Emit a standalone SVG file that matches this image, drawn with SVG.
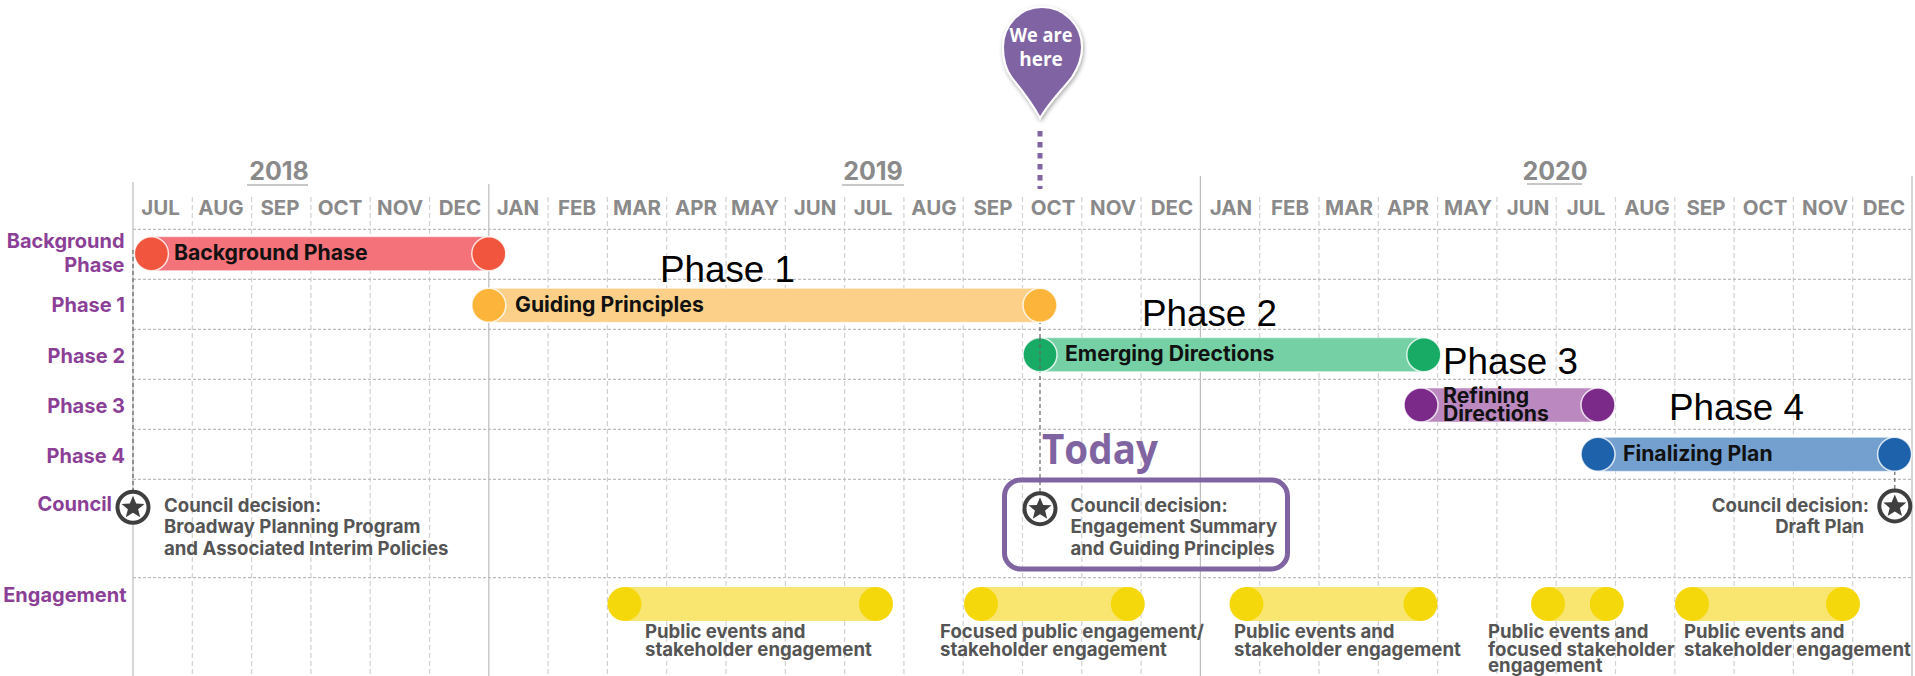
<svg xmlns="http://www.w3.org/2000/svg" width="1915" height="676" viewBox="0 0 1915 676">
<style>
text{font-family:"Inter","Liberation Sans",sans-serif;font-weight:700}
.yr{font-size:25px;fill:#8a8a8a;text-anchor:middle}
.mo{font-size:20.5px;fill:#8a8a8a;text-anchor:middle;font-weight:700}
.row{font-size:20px;fill:#8b3f97;text-anchor:end}
.bar{font-size:21.2px;fill:#111}
.note{font-size:18.6px;fill:#555;font-weight:700}
.ph{font-family:"Liberation Sans",Arial,sans-serif;font-size:36.8px;font-weight:400;fill:#000}
.gv{stroke:#d2d2d2;stroke-width:1.2;stroke-dasharray:5 3;fill:none}
.gh{stroke:#bdbdbd;stroke-width:1.2;stroke-dasharray:3 2;fill:none}
.ax{stroke:#bcbcbc;stroke-width:1.2;fill:none}
.dk{stroke:#666;stroke-width:1.2;stroke-dasharray:4 3;fill:none}
.cap{stroke:#fff;stroke-width:1.5;stroke-opacity:.8}
.pb{stroke:#fff;stroke-width:1;stroke-opacity:.5}
.ul{stroke:#b5b5b5;stroke-width:1.5}
.ring{fill:#fff;stroke:#3f3f3f;stroke-width:4}
.star{fill:#3f3f3f}
.pin{font-family:"Open Sans",sans-serif;font-size:19px;fill:#fff;text-anchor:middle}
</style>
<defs>
<filter id="sh" x="-20%" y="-20%" width="140%" height="140%"><feDropShadow dx="1" dy="2" stdDeviation="2" flood-color="#000" flood-opacity=".35"/></filter>
<g id="st"><circle class="ring" r="15.5"/><polygon class="star" points="0,-11.5 3.2,-3.8 11.5,-3.4 5.1,1.9 7.2,10 0,5.5 -7.2,10 -5.1,1.9 -11.5,-3.4 -3.2,-3.8"/></g>
</defs>
<g id="grid">
<path class="gv" d="M192.3 197V676M251.6 197V676M310.9 197V676M370.2 197V676M429.5 197V676M548.1 197V676M607.4 197V676M666.7 197V676M726 197V676M785.3 197V676M844.6 197V676M903.9 197V676M963.2 197V676M1022.5 197V676M1081.8 197V676M1141.1 197V676M1259.7 197V676M1319 197V676M1378.3 197V676M1437.6 197V676M1496.9 197V676M1556.2 197V676M1615.5 197V676M1674.8 197V676M1734.1 197V676M1793.4 197V676M1852.7 197V676"/>
<path class="gh" d="M133 229.3H1912M133 279.3H1912M133 329.3H1912M133 379.3H1912M133 429.3H1912M133 479.3H1912M133 577.7H1912"/>
<path class="ax" d="M133 182V676M488.8 184V676M1200.4 176V676M1912 176V676"/>
</g>
<g id="connectors">
<path class="dk" d="M133 250V490"/>
<path class="dk" d="M1040 320V498"/>
<path class="dk" d="M1894.8 471V492"/>
<path d="M1040 131V189" fill="none" stroke="#8064a2" stroke-width="5" stroke-dasharray="5.5 5.5"/>
</g>
<g id="years">
<text class="yr" x="279" y="180">2018</text><path class="ul" d="M247 185H308"/>
<text class="yr" x="873" y="180">2019</text><path class="ul" d="M842 185H904"/>
<text class="yr" x="1555" y="180">2020</text><path class="ul" d="M1527 184H1582"/>
</g>
<g id="months">
<text class="mo" x="160.5" y="215">JUL</text><text class="mo" x="221" y="215">AUG</text><text class="mo" x="280" y="215">SEP</text><text class="mo" x="340" y="215">OCT</text><text class="mo" x="400" y="215">NOV</text><text class="mo" x="460" y="215">DEC</text><text class="mo" x="518" y="215">JAN</text><text class="mo" x="577" y="215">FEB</text><text class="mo" x="637" y="215">MAR</text><text class="mo" x="696" y="215">APR</text><text class="mo" x="755" y="215">MAY</text><text class="mo" x="815" y="215">JUN</text><text class="mo" x="873" y="215">JUL</text><text class="mo" x="934" y="215">AUG</text><text class="mo" x="993" y="215">SEP</text><text class="mo" x="1053" y="215">OCT</text><text class="mo" x="1113" y="215">NOV</text><text class="mo" x="1172" y="215">DEC</text><text class="mo" x="1231" y="215">JAN</text><text class="mo" x="1290" y="215">FEB</text><text class="mo" x="1349" y="215">MAR</text><text class="mo" x="1408" y="215">APR</text><text class="mo" x="1468" y="215">MAY</text><text class="mo" x="1528" y="215">JUN</text><text class="mo" x="1586" y="215">JUL</text><text class="mo" x="1647" y="215">AUG</text><text class="mo" x="1706" y="215">SEP</text><text class="mo" x="1765" y="215">OCT</text><text class="mo" x="1825" y="215">NOV</text><text class="mo" x="1884" y="215">DEC</text>
</g>
<g id="row-labels">
<text class="row" x="124.5" y="248">Background</text><text class="row" x="124.5" y="272">Phase</text>
<text class="row" x="125" y="312">Phase 1</text>
<text class="row" x="125" y="362.5">Phase 2</text>
<text class="row" x="125" y="412.5">Phase 3</text>
<text class="row" x="125" y="462.5">Phase 4</text>
<text class="row" x="112" y="511">Council</text>
<text class="row" x="126.5" y="602">Engagement</text>
</g>
<g id="pin"><path d="M1040 118C1031 101 1021 89 1012 78C1006 70 1003 58 1003 47C1003 25 1020 7 1042 7C1064 7 1082 25 1082 47C1082 58 1078 68 1072 77C1062 90 1050 101 1040 118Z" fill="#8064a2" stroke="#fff" stroke-width="2" filter="url(#sh)"/>
<text class="pin" x="1041" y="42" textLength="63" lengthAdjust="spacingAndGlyphs">We are</text><text class="pin" x="1041" y="66">here</text></g>
<g id="bar-background"><rect class="pb" x="151" y="236.7" width="338" height="34" fill="#f4727a"/><circle class="cap" cx="151.4" cy="253.7" r="17" fill="#f2553d"/><circle class="cap" cx="488.8" cy="253.7" r="17" fill="#f2553d"/><text class="bar" x="174" y="259.5">Background Phase</text></g>
<g id="bar-phase1"><rect class="pb" x="489" y="288.3" width="551" height="34" fill="#fcd088"/><circle class="cap" cx="488.8" cy="305.3" r="17" fill="#fdb43b"/><circle class="cap" cx="1040" cy="305.3" r="17" fill="#fdb43b"/><text class="bar" x="515" y="312">Guiding Principles</text></g>
<g id="bar-phase2"><rect class="pb" x="1040" y="337.7" width="384" height="34" fill="#75d1a5"/><circle class="cap" cx="1040" cy="354.7" r="17" fill="#18ab66"/><circle class="cap" cx="1423.8" cy="354.7" r="17" fill="#18ab66"/><path class="dk" d="M1040 337V372"/><text class="bar" x="1065" y="361">Emerging Directions</text></g>
<g id="bar-phase3"><rect class="pb" x="1421" y="388" width="177" height="34" fill="#bb88c0"/><circle class="cap" cx="1421" cy="405" r="17" fill="#7b2a8a"/><circle class="cap" cx="1598" cy="405" r="17" fill="#7b2a8a"/><text class="bar" x="1443" y="402.5">Refining</text><text class="bar" x="1443" y="420.5">Directions</text></g>
<g id="bar-phase4"><rect class="pb" x="1598" y="437.3" width="297" height="34" fill="#73a0cf"/><circle class="cap" cx="1598" cy="454.3" r="17" fill="#1f62ac"/><circle class="cap" cx="1894.6" cy="454.3" r="17" fill="#1f62ac"/><text class="bar" x="1623" y="460.5">Finalizing Plan</text></g>
<g id="council-2018"><use href="#st" x="133" y="507.3"/><text class="note" x="164" y="512">Council decision:</text><text class="note" x="164" y="533">Broadway Planning Program</text><text class="note" x="164" y="554.5">and Associated Interim Policies</text></g>
<g id="council-today"><text x="1042" y="464" font-size="41" fill="#8064a2" textLength="116" lengthAdjust="spacingAndGlyphs" style="font-family:'Open Sans',sans-serif">Today</text><rect x="1004.5" y="480" width="283" height="89" rx="16" fill="none" stroke="#8064a2" stroke-width="5"/><use href="#st" x="1040" y="508.7"/><text class="note" x="1070.5" y="512">Council decision:</text><text class="note" x="1070.5" y="533">Engagement Summary</text><text class="note" x="1070.5" y="554.5">and Guiding Principles</text></g>
<g id="council-2020"><use href="#st" x="1894.8" y="506"/><text class="note" x="1869" y="512" text-anchor="end">Council decision:</text><text class="note" x="1864" y="533" text-anchor="end">Draft Plan</text></g>
<g id="phase-labels"><text class="ph" x="660" y="282">Phase 1</text><text class="ph" x="1142" y="326">Phase 2</text><text class="ph" x="1443" y="374">Phase 3</text><text class="ph" x="1669" y="420">Phase 4</text></g>
<g id="engagement-1"><rect x="624" y="587" width="252" height="34" fill="#f8e670"/><circle cx="624.5" cy="604" r="17" fill="#f5d80c"/><circle cx="876" cy="604" r="17" fill="#f5d80c"/><text class="note" x="645" y="638">Public events and</text><text class="note" x="645" y="656">stakeholder engagement</text></g>
<g id="engagement-2"><rect x="981" y="587" width="147" height="34" fill="#f8e670"/><circle cx="981" cy="604" r="17" fill="#f5d80c"/><circle cx="1127.8" cy="604" r="17" fill="#f5d80c"/><text class="note" x="940" y="638">Focused public engagement/</text><text class="note" x="940" y="656">stakeholder engagement</text></g>
<g id="engagement-3"><rect x="1246" y="587" width="175" height="34" fill="#f8e670"/><circle cx="1246.5" cy="604" r="17" fill="#f5d80c"/><circle cx="1420.5" cy="604" r="17" fill="#f5d80c"/><text class="note" x="1234" y="638">Public events and</text><text class="note" x="1234" y="656">stakeholder engagement</text></g>
<g id="engagement-4"><rect x="1548" y="587" width="59" height="34" fill="#f8e670"/><circle cx="1548" cy="604" r="17" fill="#f5d80c"/><circle cx="1606.8" cy="604" r="17" fill="#f5d80c"/><text class="note" x="1488" y="638">Public events and</text><text class="note" x="1488" y="656">focused stakeholder</text><text class="note" x="1488" y="671.5">engagement</text></g>
<g id="engagement-5"><rect x="1692" y="587" width="151" height="34" fill="#f8e670"/><circle cx="1692" cy="604" r="17" fill="#f5d80c"/><circle cx="1843" cy="604" r="17" fill="#f5d80c"/><text class="note" x="1684" y="638">Public events and</text><text class="note" x="1684" y="656">stakeholder engagement</text></g>
</svg>
